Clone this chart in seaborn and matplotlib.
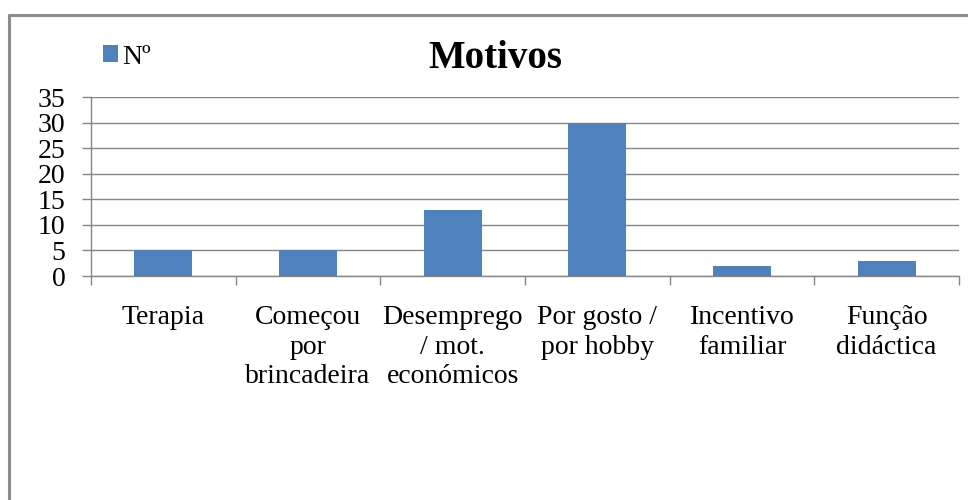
import numpy as np
import pandas as pd
import matplotlib
matplotlib.use('Agg')
import matplotlib.pyplot as plt
from matplotlib.patches import Patch
import seaborn as sns

categorias = ['Terapia', 'Começou\npor\nbrincadeira', 'Desemprego\n/ mot.\neconómicos',
              'Por gosto /\npor hobby', 'Incentivo\nfamiliar', 'Função\ndidáctica']
valores = [5, 5, 13, 30, 2, 3]
serie = 'Nº'
yticks = [0, 5, 10, 15, 20, 25, 30, 35]

sns.set_theme(style='white')
plt.rcParams['font.family'] = ['Liberation Serif', 'DejaVu Serif']
plt.rcParams['text.color'] = 'black'
plt.rcParams['xtick.color'] = 'black'
plt.rcParams['ytick.color'] = 'black'

df = pd.DataFrame({'motivo': categorias, 'n': valores})

fig = plt.figure(figsize=(9.68, 5.0), dpi=100)
ax = fig.add_axes([91 / 968, 1 - 276 / 500, (959 - 91) / 968, (276 - 97) / 500])

sns.barplot(data=df, x='motivo', y='n', color='#4F81BD', width=0.4,
            saturation=1, linewidth=0, ax=ax, zorder=3)

grey = '#868686'
ax.set_ylim(0, 35)
ax.set_yticks(yticks)
ax.set_xlim(-0.5, len(categorias) - 0.5)
ax.yaxis.grid(True, color=grey, linewidth=1, zorder=0)
ax.set_xlabel('')
ax.set_ylabel('')
for s in ['top', 'right']:
    ax.spines[s].set_visible(False)
for s in ['left', 'bottom']:
    ax.spines[s].set_color(grey)
    ax.spines[s].set_linewidth(1)

ax.set_xticks(np.arange(len(categorias)))
ax.set_xticklabels(categorias, fontsize=20, linespacing=1.24, va='top')
ax.set_xticks(np.arange(-0.5, len(categorias)), minor=True)
ax.tick_params(axis='x', which='major', length=0, pad=21)
ax.tick_params(axis='x', which='minor', length=6.5, color=grey, width=1, direction='out')
ax.tick_params(axis='y', length=6.5, color=grey, width=1, direction='out',
               labelsize=20, pad=12, labelcolor='black')
ax.tick_params(axis='y', which='major', left=True)
ax.tick_params(axis='x', which='minor', bottom=True)
ax.tick_params(axis='x', labelcolor='black')

for t in ax.get_yticklabels():
    t.set_va('center_baseline')

fig.text(495 / 968, 1 - 58 / 500, 'Motivos', fontsize=28, fontweight='bold',
         ha='center', va='center', color='black')

handles = [Patch(facecolor='#4F81BD', edgecolor='none', label=serie)]
fig.legend(handles=handles, loc='center left', bbox_to_anchor=(103 / 968, 1 - 57 / 500),
           frameon=False, fontsize=20, handlelength=0.55, handleheight=0.55,
           handletextpad=0.15, borderaxespad=0, borderpad=0)

# moldura do gráfico (cortada à direita e em baixo)
fig.add_artist(plt.Line2D([9 / 968, 9 / 968], [0, 1 - 15 / 500], transform=fig.transFigure,
                          color='#8c8c8c', linewidth=2.2))
fig.add_artist(plt.Line2D([9 / 968, 1], [1 - 15 / 500, 1 - 15 / 500], transform=fig.transFigure,
                          color='#8c8c8c', linewidth=2.2))

fig.savefig('out.png', dpi=100)
